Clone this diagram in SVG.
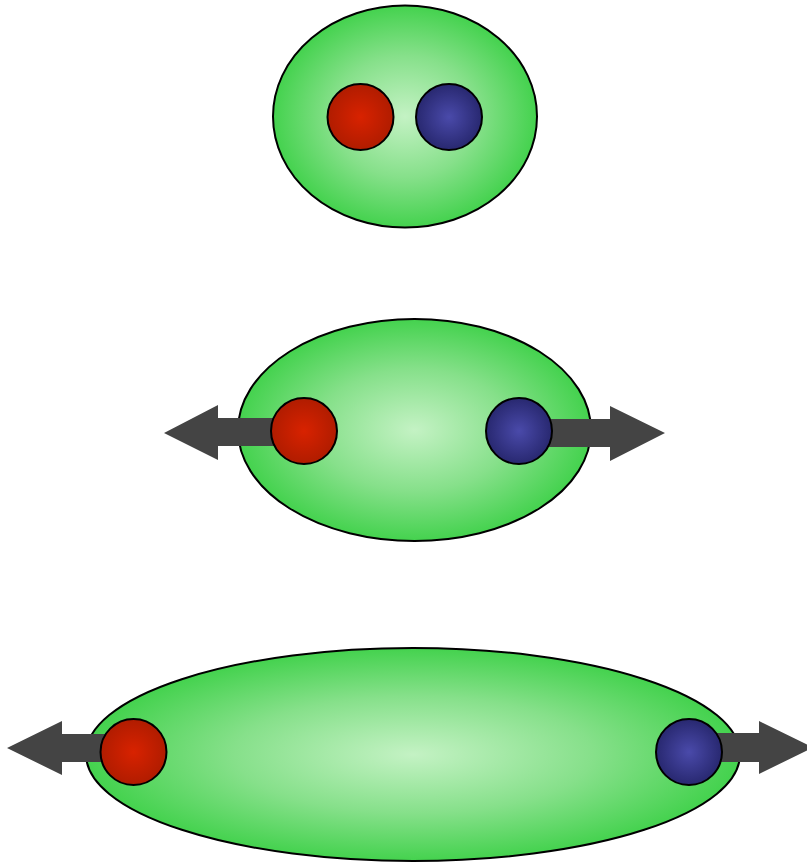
<svg xmlns="http://www.w3.org/2000/svg" width="807" height="863" viewBox="0 0 807 863">
<defs>
<radialGradient id="gGreen" cx="50%" cy="50%" r="50%">
<stop offset="0" stop-color="#c4f2c4"/>
<stop offset="0.55" stop-color="#86e08a"/>
<stop offset="1" stop-color="#44d24e"/>
</radialGradient>
<radialGradient id="gRed" cx="50%" cy="50%" r="50%">
<stop offset="0" stop-color="#d82200"/>
<stop offset="1" stop-color="#b01c00"/>
</radialGradient>
<radialGradient id="gBlue" cx="50%" cy="50%" r="50%">
<stop offset="0" stop-color="#4a4aaa"/>
<stop offset="1" stop-color="#282870"/>
</radialGradient>
</defs>
<style>
.cell{fill:url(#gGreen);stroke:#000;stroke-width:2}
.red{fill:url(#gRed);stroke:#000;stroke-width:2}
.blue{fill:url(#gBlue);stroke:#000;stroke-width:2}
.arr{fill:#444444;stroke:none}
</style>
<g id="cell-top">
<ellipse class="cell" cx="405" cy="116.5" rx="132" ry="111"/>
</g>
<g id="cell-middle">
<ellipse class="cell" cx="414.5" cy="430" rx="176.5" ry="111"/>
</g>
<g id="cell-bottom">
<ellipse class="cell" cx="413" cy="754.5" rx="327" ry="106.5"/>
</g>
<g id="connectors">
<polygon class="arr" points="304,418 218,418 218,405 164,433 218,460 218,446 304,446"/>
<polygon class="arr" points="519,419 610,419 610,406 665,433 610,461 610,447 519,447"/>
<polygon class="arr" points="133,734 62,734 62,721 7,748 62,775 62,762 133,762"/>
<polygon class="arr" points="689,733 759,733 759,721 813,747.5 759,774 759,762 689,762"/>
</g>
<g id="red-top"><circle class="red" cx="360.5" cy="117" r="33"/></g>
<g id="blue-top"><circle class="blue" cx="449" cy="117" r="33"/></g>
<g id="red-middle"><circle class="red" cx="304" cy="431" r="33"/></g>
<g id="blue-middle"><circle class="blue" cx="519" cy="431" r="33"/></g>
<g id="red-bottom"><circle class="red" cx="133.5" cy="752" r="33"/></g>
<g id="blue-bottom"><circle class="blue" cx="689" cy="752" r="33"/></g>
</svg>
